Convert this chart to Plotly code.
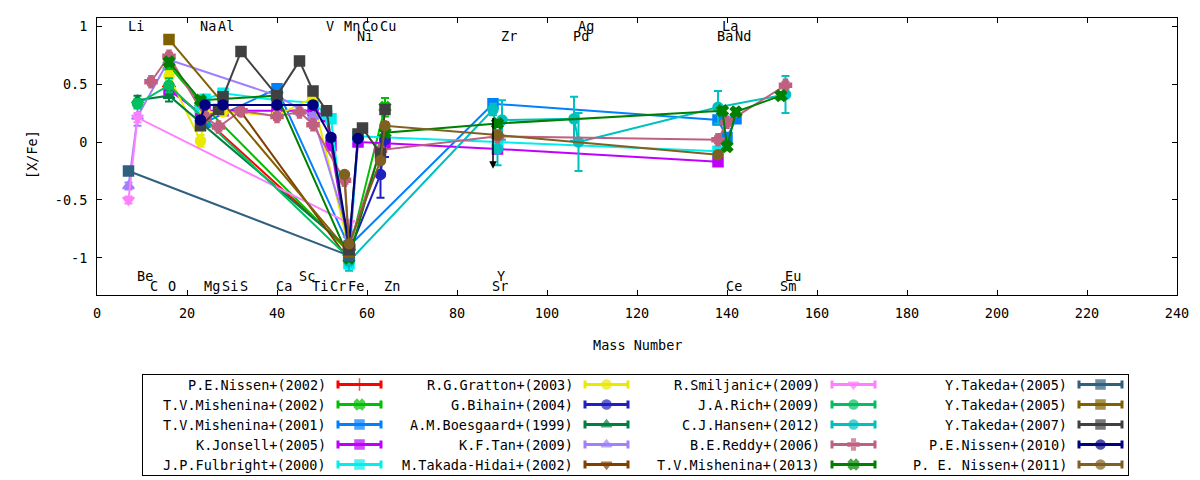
import plotly.graph_objects as go

# mass numbers used for the x position of each element
MASS = dict(Li=7, Be=9, C=12, O=16, Na=23, Mg=24, Al=27, Si=28, S=32, Ca=40,
            Sc=45, Ti=48, V=51, Cr=52, Mn=55, Fe=56, Ni=58, Co=59, Cu=63, Zn=64,
            Sr=88, Y=89, Zr=90, Pd=106, Ag=107, Ba=138, La=139, Ce=140, Nd=142,
            Sm=152, Eu=153)

# element labels along the top and bottom of the frame
label_top = ["Li", "Na", "Al", "V", "Mn", "Co", "Cu", "Ag", "La"]
label_top_low = ["Ni", "Zr", "Pd", "Ba", "Nd"]
label_bottom = ["C", "O", "Mg", "Si", "S", "Ca", "Ti", "Cr", "Fe", "Zn", "Sr", "Ce", "Sm"]
label_bottom_high = ["Be", "Sc", "Y", "Eu"]

# ---- abundances [X/Fe] per paper ----
nissen2002_el = ["O", "Fe"]
nissen2002_val = [0.48, -0.93]
nissen2002_err = [0.05, 0.03]

mishenina2002_el = ["O", "Na", "Fe", "Zn"]
mishenina2002_val = [0.66, 0.34, -0.95, 0.30]
mishenina2002_err = [0.04, 0.04, 0.03, 0.08]

mishenina2001_el = ["Mg", "Ca", "Fe", "Sr", "Ba", "Ce", "Nd"]
mishenina2001_val = [0.17, 0.46, -0.90, 0.33, 0.19, 0.04, 0.20]
mishenina2001_err = [0.03, 0.03, 0.03, 0.03, 0.03, 0.03, 0.03]

jonsell2005_el = ["O", "Na", "Mg", "Si", "Ca", "Ti", "V", "Cr", "Fe", "Ni", "Zn", "Y", "Ba"]
jonsell2005_val = [0.45, 0.25, 0.27, 0.27, 0.27, 0.27, 0.22, -0.03, -0.95, 0.0, -0.01, -0.06, -0.17]
jonsell2005_err = [0.03, 0.02, 0.02, 0.02, 0.02, 0.02, 0.04, 0.04, 0.02, 0.02, 0.02, 0.02, 0.03]

fulbright2000_el = ["Na", "Mg", "Si", "Ca", "Ti", "V", "Cr", "Fe", "Ni", "Y", "Ba"]
fulbright2000_val = [0.30, 0.37, 0.42, 0.36, 0.34, 0.24, 0.20, -1.05, 0.05, 0.0, -0.08]
fulbright2000_err = [0.02, 0.02, 0.02, 0.02, 0.02, 0.02, 0.02, 0.04, 0.02, 0.02, 0.03]

gratton2003_el = ["O", "Na", "Mg", "Si", "Ca", "Ti", "Fe"]
gratton2003_val = [0.57, 0.01, 0.26, 0.26, 0.23, 0.38, -0.92]
gratton2003_err = [0.04, 0.05, 0.03, 0.03, 0.03, 0.03, 0.03]

bihain2004_el = ["Fe", "Cu", "Zn"]
bihain2004_val = [-0.95, -0.28, 0.02]
bihain2004_err = [0.03, 0.20, 0.15]

boesgaard1999_el = ["Be", "O", "Fe"]
boesgaard1999_val = [0.36, 0.40, -0.92]
boesgaard1999_err = [0.04, 0.05, 0.03]

tan2009_el = ["Li", "Be", "O", "Ca", "Ti", "Fe"]
tan2009_val = [-0.38, 0.22, 0.71, 0.40, 0.22, -0.80]
tan2009_err = [0.03, 0.08, 0.04, 0.03, 0.03, 0.03]

takada2002_el = ["S", "Fe"]
takada2002_val = [0.26, -1.02]
takada2002_err = [0.03, 0.03]

smiljanic2009_el = ["Li", "Be", "Fe"]
smiljanic2009_val = [-0.50, 0.21, -0.70]
smiljanic2009_err = [0.03, 0.04, 0.03]

rich2009_el = ["Be", "O", "Fe"]
rich2009_val = [0.33, 0.49, -1.00]
rich2009_err = [0.04, 0.06, 0.03]

hansen2012_el = ["Fe", "Sr", "Y", "Zr", "Pd", "Ag", "Ba", "Eu"]
hansen2012_val = [-1.03, 0.28, -0.06, 0.19, 0.20, 0.0, 0.30, 0.41]
hansen2012_err = [0.08, 0.05, 0.14, 0.17, 0.19, 0.25, 0.14, 0.16]

reddy2006_el = ["C", "O", "Mg", "Al", "S", "Ca", "Sc", "Ti", "Mn", "Fe", "Cu", "Y", "Ba", "Ce", "Eu"]
reddy2006_val = [0.52, 0.74, 0.22, 0.13, 0.27, 0.22, 0.26, 0.15, -0.33, -0.90, -0.07, 0.05, 0.02, 0.17, 0.49]
reddy2006_err = [0.03, 0.03, 0.03, 0.03, 0.03, 0.03, 0.03, 0.03, 0.03, 0.03, 0.03, 0.03, 0.03, 0.03, 0.03]

mishenina2013_el = ["O", "Na", "Ca", "Fe", "Zn", "Y", "La", "Ce", "Nd", "Sm"]
mishenina2013_val = [0.69, 0.36, 0.40, -1.00, 0.08, 0.16, 0.27, -0.04, 0.26, 0.40]
mishenina2013_err = [0.03, 0.03, 0.03, 0.03, 0.03, 0.03, 0.03, 0.03, 0.03, 0.03]

takeda2005a_el = ["Li", "Fe"]
takeda2005a_val = [-0.25, -0.98]
takeda2005a_err = [0.02, 0.03]

takeda2005b_el = ["O", "Fe"]
takeda2005b_val = [0.885, -0.95]
takeda2005b_err = [0.02, 0.03]

takeda2007_el = ["Na", "Al", "Si", "S", "Ca", "Sc", "Ti", "V", "Fe", "Ni", "Co", "Cu", "Zn"]
takeda2007_val = [0.14, 0.28, 0.39, 0.78, 0.40, 0.70, 0.44, 0.27, -0.93, 0.07, 0.12, -0.10, 0.28]
takeda2007_err = [0.02, 0.02, 0.02, 0.02, 0.02, 0.02, 0.02, 0.02, 0.03, 0.02, 0.02, 0.02, 0.02]

nissen2010_el = ["Na", "Mg", "Si", "Ca", "Ti", "Cr", "Fe", "Ni"]
nissen2010_val = [0.19, 0.32, 0.32, 0.32, 0.32, 0.04, -0.88, 0.03]
nissen2010_err = [0.02, 0.02, 0.02, 0.02, 0.02, 0.02, 0.02, 0.02]

nissen2011_el = ["Mn", "Fe", "Cu", "Zn", "Y", "Ba"]
nissen2011_val = [-0.28, -0.88, -0.16, 0.14, 0.06, -0.11]
nissen2011_err = [0.02, 0.02, 0.02, 0.02, 0.02, 0.02]

# upper-limit arrow drawn at Sr
limit_x = [88]
limit_from = [0.22]
limit_to = [-0.23]

series = [
    ("P.E.Nissen+(2002)", nissen2002_el, nissen2002_val, nissen2002_err, "#ff0000", "cross-thin"),
    ("T.V.Mishenina+(2002)", mishenina2002_el, mishenina2002_val, mishenina2002_err, "#00c000", "x"),
    ("T.V.Mishenina+(2001)", mishenina2001_el, mishenina2001_val, mishenina2001_err, "#0080ff", "square"),
    ("K.Jonsell+(2005)", jonsell2005_el, jonsell2005_val, jonsell2005_err, "#c000ff", "square"),
    ("J.P.Fulbright+(2000)", fulbright2000_el, fulbright2000_val, fulbright2000_err, "#00eeee", "square"),
    ("R.G.Gratton+(2003)", gratton2003_el, gratton2003_val, gratton2003_err, "#eaea00", "circle"),
    ("G.Bihain+(2004)", bihain2004_el, bihain2004_val, bihain2004_err, "#2020c0", "circle"),
    ("A.M.Boesgaard+(1999)", boesgaard1999_el, boesgaard1999_val, boesgaard1999_err, "#008040", "triangle-up"),
    ("K.F.Tan+(2009)", tan2009_el, tan2009_val, tan2009_err, "#a080ff", "triangle-up"),
    ("M.Takada-Hidai+(2002)", takada2002_el, takada2002_val, takada2002_err, "#804000", "triangle-down"),
    ("R.Smiljanic+(2009)", smiljanic2009_el, smiljanic2009_val, smiljanic2009_err, "#ff80ff", "triangle-down"),
    ("J.A.Rich+(2009)", rich2009_el, rich2009_val, rich2009_err, "#00c060", "circle"),
    ("C.J.Hansen+(2012)", hansen2012_el, hansen2012_val, hansen2012_err, "#00c0c0", "circle"),
    ("B.E.Reddy+(2006)", reddy2006_el, reddy2006_val, reddy2006_err, "#c06080", "cross"),
    ("T.V.Mishenina+(2013)", mishenina2013_el, mishenina2013_val, mishenina2013_err, "#008000", "x"),
    ("Y.Takeda+(2005)", takeda2005a_el, takeda2005a_val, takeda2005a_err, "#306080", "square"),
    ("Y.Takeda+(2005)", takeda2005b_el, takeda2005b_val, takeda2005b_err, "#806000", "square"),
    ("Y.Takeda+(2007)", takeda2007_el, takeda2007_val, takeda2007_err, "#404040", "square"),
    ("P.E.Nissen+(2010)", nissen2010_el, nissen2010_val, nissen2010_err, "#000080", "circle"),
    ("P. E. Nissen+(2011)", nissen2011_el, nissen2011_val, nissen2011_err, "#806020", "circle"),
]

FONT = "DejaVu Sans Mono"
W, H = 1200, 480
ML, MR, MT, MB = 97, 23, 18, 5
PH = H - MT - MB
PW = W - ML - MR

fig = go.Figure()

for name, els, vals, errs, color, sym in series:
    fig.add_trace(go.Scatter(
        x=[MASS[e] for e in els], y=vals,
        mode="lines+markers",
        line=dict(color=color, width=2),
        marker=dict(color=color, symbol=sym, size=10,
                    line=dict(color=color, width=1.5)),
        error_y=dict(type="data", array=errs, color=color, thickness=2, width=4),
        showlegend=False, hoverinfo="skip", cliponaxis=False,
    ))

# upper limit arrow
annotations = []
for x, y0, y1 in zip(limit_x, limit_from, limit_to):
    annotations.append(dict(x=x, y=y1, ax=x, ay=y0, xref="x", yref="y",
                            axref="x", ayref="y", text="", showarrow=True,
                            arrowhead=2, arrowsize=1, arrowwidth=1.5, arrowcolor="black"))

# element labels
for names, yv in [(label_top, 1.0), (label_top_low, 0.915),
                  (label_bottom, -1.24), (label_bottom_high, -1.155)]:
    for el in names:
        annotations.append(dict(x=MASS[el], y=yv, xref="x", yref="y", text=el,
                                showarrow=False, xanchor="left", yanchor="middle",
                                xshift=-3, font=dict(family=FONT, size=13.5, color="black")))

# legend box drawn on a second pair of axes (pixel-like units)
LX0, LX1, LY0, LY1 = 142.7, 1128.3, 375, 475
for i, (name, els, vals, errs, color, sym) in enumerate(series):
    col, row = divmod(i, 5)
    tx = 328 + 247 * col
    ty = 384.5 + 20 * row
    xs = [tx + 10, tx + 31.5, tx + 53]
    fig.add_trace(go.Scatter(
        x=xs, y=[ty] * 3, xaxis="x2", yaxis="y2",
        mode="lines+markers",
        line=dict(color=color, width=3),
        marker=dict(color=color, symbol=sym, size=[0, 9, 0],
                    line=dict(color=color, width=1.5)),
        error_y=dict(type="data", array=[4, 0, 4], color=color, thickness=3, width=0),
        showlegend=False, hoverinfo="skip", cliponaxis=False,
    ))
    annotations.append(dict(x=tx, y=ty, xref="x2", yref="y2", text=name,
                            showarrow=False, xanchor="right", yanchor="middle",
                            font=dict(family=FONT, size=13.5, color="black")))

# axis titles
annotations.append(dict(x=0.5, y=(H - MB - 345) / PH, xref="paper", yref="paper",
                        text="Mass Number", showarrow=False, xanchor="center", yanchor="middle",
                        font=dict(family=FONT, size=13.5, color="black")))
annotations.append(dict(x=(32 - ML) / PW, y=(H - MB - 155) / PH, xref="paper", yref="paper",
                        text="[X/Fe]", textangle=-90, showarrow=False,
                        xanchor="center", yanchor="middle",
                        font=dict(family=FONT, size=13.5, color="black")))

ytick_vals = [-1, -0.5, 0, 0.5, 1]
ytick_text = ["-1", "-0.5", "0", "0.5", "1"]

fig.update_layout(
    width=W, height=H,
    margin=dict(l=ML, r=MR, t=MT, b=MB),
    paper_bgcolor="white", plot_bgcolor="white",
    font=dict(family=FONT, size=13.5, color="black"),
    showlegend=False,
    annotations=annotations,
    xaxis=dict(range=[0, 240], dtick=20, tick0=0, ticks="inside", ticklen=5,
               mirror="ticks", showline=True, linecolor="black", linewidth=1,
               showgrid=False, zeroline=False, tickcolor="black",
               ticklabelstandoff=6, domain=[0, 1], anchor="y"),
    yaxis=dict(range=[-1.32, 1.07], tickvals=ytick_vals, ticktext=ytick_text,
               ticks="inside", ticklen=5, mirror="ticks", showline=True,
               linecolor="black", linewidth=1, showgrid=False, zeroline=False,
               tickcolor="black", ticklabelstandoff=6,
               domain=[(H - MB - 295) / PH, 1], anchor="x"),
    xaxis2=dict(range=[LX0, LX1], domain=[(LX0 - ML) / PW, (LX1 - ML) / PW],
                showline=True, mirror=True, linecolor="black", linewidth=1,
                showgrid=False, zeroline=False, showticklabels=False, ticks="",
                anchor="y2", fixedrange=True),
    yaxis2=dict(range=[LY1, LY0], domain=[0, (H - MB - LY0) / PH],
                showline=True, mirror=True, linecolor="black", linewidth=1,
                showgrid=False, zeroline=False, showticklabels=False, ticks="",
                anchor="x2", fixedrange=True),
)

# the page gets no body margin so the 1200x480 figure fills the window exactly
fig.write_html("out.html", config={"displayModeBar": False},
               post_script="document.body.style.margin='0';document.body.style.overflow='hidden';")
